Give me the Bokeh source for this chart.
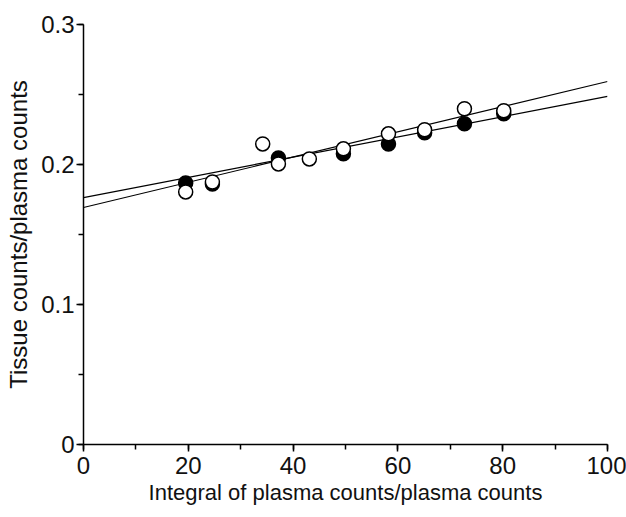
from bokeh.plotting import figure
from bokeh.models import Range1d, FixedTicker
from bokeh.embed import file_html
from bokeh.resources import INLINE

# Data
x_filled = [19.5, 24.6, 37.2, 49.6, 58.2, 65.1, 72.7, 80.2]
y_filled = [0.1868, 0.1861, 0.2047, 0.2076, 0.2147, 0.2226, 0.2291, 0.2362]

x_open = [19.5, 24.6, 34.2, 37.2, 43.1, 49.6, 58.2, 65.1, 72.7, 80.2]
y_open = [0.1804, 0.1875, 0.2147, 0.2004, 0.2040, 0.2112, 0.2219, 0.2248, 0.2398, 0.2384]

fit_x = [0, 100]
fit_a = [0.1764, 0.2486]
fit_b = [0.1693, 0.2593]

x_ticks = [0, 20, 40, 60, 80, 100]
x_minor = [0, 10, 20, 30, 40, 50, 60, 70, 80, 90, 100]
y_ticks = [0, 0.1, 0.2, 0.3]
y_minor = [0, 0.05, 0.1, 0.15, 0.2, 0.25, 0.3]
y_tick_labels = ["0", "0.1", "0.2", "0.3"]

x_title = "Integral of plasma counts/plasma counts"
y_title = "Tissue counts/plasma counts"

FONT = "Liberation Sans"

p = figure(width=626, height=517, output_backend="svg", toolbar_location=None,
           x_range=Range1d(0, 100), y_range=Range1d(0, 0.3),
           min_border_left=83, min_border_right=19, min_border_top=24, min_border_bottom=73)
p.outline_line_color = None
p.xgrid.visible = False
p.ygrid.visible = False
p.background_fill_color = "white"
p.border_fill_color = "white"

p.line(fit_x, fit_a, line_color="black", line_width=1.2)
p.line(fit_x, fit_b, line_color="black", line_width=1.2)

p.scatter(x_filled, y_filled, size=14, marker="circle", fill_color="black",
          line_color="black", line_width=1.5)
p.scatter(x_open, y_open, size=14, marker="circle", fill_color="white",
          line_color="black", line_width=1.5)

p.xaxis.ticker = FixedTicker(ticks=x_ticks, minor_ticks=x_minor)
p.yaxis.ticker = FixedTicker(ticks=y_ticks, minor_ticks=y_minor)
p.yaxis.major_label_overrides = {t: l for t, l in zip(y_ticks, y_tick_labels)}

for ax in (p.xaxis[0], p.yaxis[0]):
    ax.axis_line_width = 1.5
    ax.axis_line_color = "black"
    ax.major_tick_line_color = "black"
    ax.minor_tick_line_color = "black"
    ax.major_tick_line_width = 1.5
    ax.minor_tick_line_width = 1.5
    ax.major_tick_out = 7
    ax.major_tick_in = 0
    ax.minor_tick_out = 5
    ax.minor_tick_in = 0
    ax.major_label_text_font = FONT
    ax.major_label_text_font_size = "24px"
    ax.major_label_text_color = "#111111"
    ax.axis_label_text_font = FONT
    ax.axis_label_text_font_style = "normal"
    ax.axis_label_text_color = "#111111"

p.xaxis.axis_label_text_font_size = "22px"
p.yaxis.axis_label_text_font_size = "24px"
p.xaxis.axis_label = x_title
p.yaxis.axis_label = y_title
p.xaxis.major_label_standoff = 5
p.yaxis.major_label_standoff = 2
p.xaxis.axis_label_standoff = 3
p.yaxis.axis_label_standoff = 6

open("out.html", "w").write(file_html(p, INLINE))
